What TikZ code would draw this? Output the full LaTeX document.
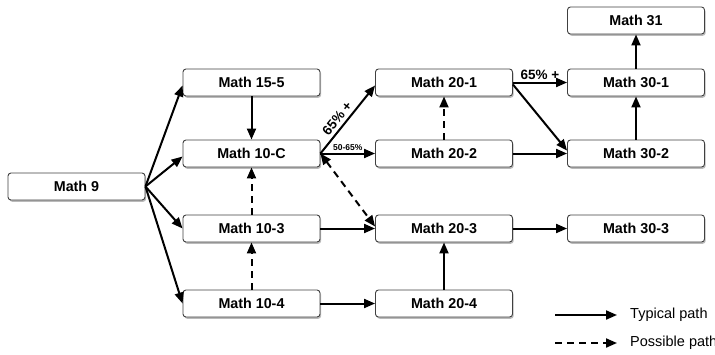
\documentclass[tikz,border=0pt]{standalone}
\usepackage{fontspec}
\setmainfont{Liberation Sans}
\usetikzlibrary{arrows.meta,shadows}
\begin{document}
\begin{tikzpicture}[x=1pt,y=-1pt,
  box/.style={draw=black!75, line width=0.9pt, fill=white, rounded corners=3pt,
    minimum width=137pt, minimum height=27pt, inner sep=0pt,
    font=\fontsize{14.3}{15}\selectfont\bfseries,
    drop shadow={shadow xshift=1.2pt, shadow yshift=-1.8pt, fill=black!45, opacity=0.6}},
  tip/.style={Triangle[length=11pt,width=9pt]},
  arr/.style={line width=2pt, -{Triangle[length=11pt,width=9pt]}},
  darr/.style={arr, dash pattern=on 7pt off 5pt},
  lbl/.style={font=\fontsize{13.5}{14}\selectfont\bfseries, inner sep=2pt},
  slbl/.style={font=\fontsize{8.5}{9}\selectfont\bfseries, inner sep=1.5pt},
  leg/.style={font=\fontsize{14.5}{15}\selectfont, anchor=west, inner sep=0pt}]
\useasboundingbox (0,0) rectangle (715,354);

\node[box] (m9)   at (76.5,186.5) {Math 9};
\node[box] (m155) at (251.5,82.5) {Math 15-5};
\node[box] (m10c) at (251.5,153.5) {Math 10-C};
\node[box] (m103) at (251.5,228.5) {Math 10-3};
\node[box] (m104) at (251.5,303.5) {Math 10-4};
\node[box] (m201) at (444,82.5) {Math 20-1};
\node[box] (m202) at (444,153.5) {Math 20-2};
\node[box] (m203) at (444,228.5) {Math 20-3};
\node[box] (m204) at (444,303.5) {Math 20-4};
\node[box] (m31)  at (636,20.5) {Math 31};
\node[box] (m301) at (636,82.5) {Math 30-1};
\node[box] (m302) at (636,153.5) {Math 30-2};
\node[box] (m303) at (636,228.5) {Math 30-3};

% Math 9 fan-out
\draw[arr] (m9.east) -- ([yshift=-3pt]m155.west);
\draw[arr] (m9.east) -- ([yshift=-3pt]m10c.west);
\draw[arr] (m9.east) -- (m103.west);
\draw[arr] (m9.east) -- (m104.west);

% verticals left column
\draw[arr] (m155) -- (m10c);
\draw[darr] (m103) -- (m10c);
\draw[darr] (m104) -- (m103);

% 10-C outgoing
\draw[arr] (m10c.east) -- node[lbl, midway, sloped, above, xshift=-6pt, yshift=1pt] {65\% +} ([yshift=-3pt]m201.west);
\draw[arr] (m10c.east) -- node[slbl, midway, above] {50-65\%} (m202.west);
\draw[darr, {Triangle[length=11pt,width=9pt]}-{Triangle[length=11pt,width=9pt]}] (m10c.east) -- ([yshift=2pt]m203.west);

% row 3/4
\draw[arr] (m103.east) -- (m203.west);
\draw[arr] (m104.east) -- (m204.west);
\draw[arr] (m204) -- (m203);
\draw[arr] (m203) -- (m303);

% middle column
\draw[darr] (m202) -- (m201);
\draw[arr] (m201.east) -- node[lbl, midway, above] {65\% +} (m301.west);
\draw[arr] ([yshift=-2pt]m201.east) -- ([yshift=3pt]m302.west);
\draw[arr] (m202.east) -- (m302.west);

% right column
\draw[arr] (m302) -- (m301);
\draw[arr] (m301) -- (m31);

% legend
\coordinate (la1) at (555,315);
\coordinate (la2) at (617,315);
\coordinate (lb1) at (555,343);
\coordinate (lb2) at (617,343);
\draw[arr] (la1) -- (la2);
\draw[darr] (lb1) -- (lb2);
\node[leg] (t1) at (630,315) {Typical path};
\node[leg] (t2) at (630,343) {Possible path};
\end{tikzpicture}
\end{document}
